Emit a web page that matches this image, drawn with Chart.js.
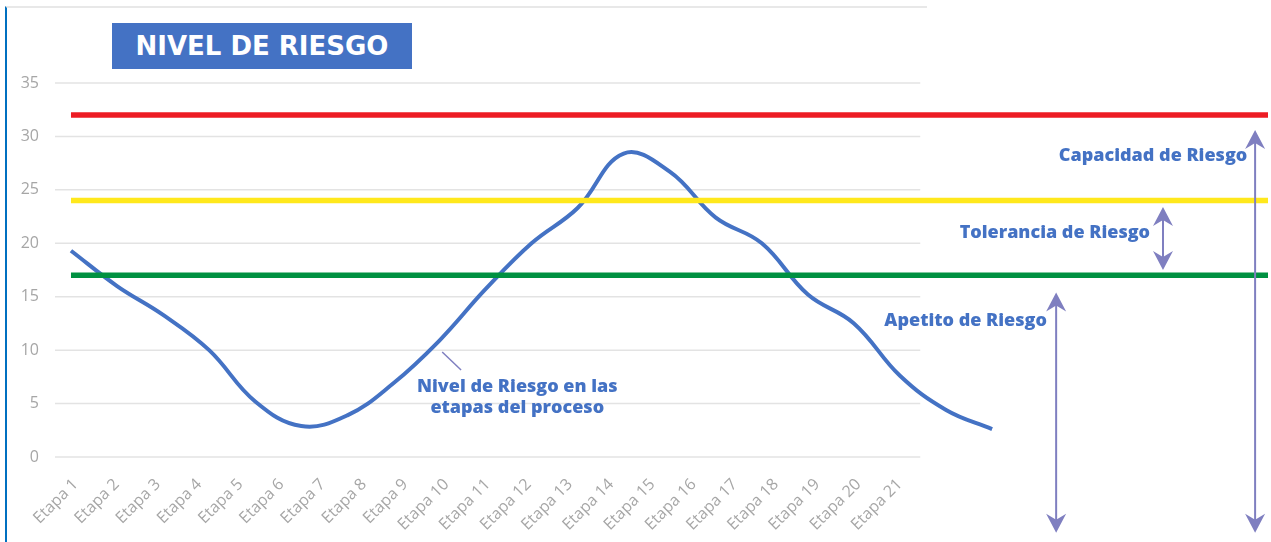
<!DOCTYPE html>
<html>
<head>
<meta charset="utf-8">
<title>Nivel de Riesgo</title>
<script src="https://cdn.jsdelivr.net/npm/chart.js@4.4.1/dist/chart.umd.min.js"></script>
<style>
  html, body { margin: 0; padding: 0; background: #fff; }
  #wrap { position: relative; width: 1271px; height: 542px; overflow: hidden; }
  #frame {
    position: absolute; left: 5px; top: 6px; width: 920px; height: 540px;
    border-left: 2.5px solid #0070C0; border-top: 2px solid #E8E8E8;
  }
  #title {
    position: absolute; left: 112px; top: 23px; width: 300px; height: 46px;
    background: #4472C4; color: #fff;
    font: bold 26px "DejaVu Sans", sans-serif;
    display: flex; align-items: center; justify-content: center;
  }
  canvas { position: absolute; left: 0; top: 0; }
</style>
</head>
<body>
<div id="wrap">
  <div id="frame"></div>
  <canvas id="riesgo" width="1271" height="542"></canvas>
  <div id="title">NIVEL DE RIESGO</div>
</div>

<script>
// ================= DATA =================
const etapas = ['Etapa 1', 'Etapa 2', 'Etapa 3', 'Etapa 4', 'Etapa 5', 'Etapa 6', 'Etapa 7',
  'Etapa 8', 'Etapa 9', 'Etapa 10', 'Etapa 11', 'Etapa 12', 'Etapa 13', 'Etapa 14',
  'Etapa 15', 'Etapa 16', 'Etapa 17', 'Etapa 18', 'Etapa 19', 'Etapa 20', 'Etapa 21']

// nivel de riesgo (curva azul)
const nivelRiesgo = [19.3, 16.0, 13.3, 10.0, 5.2, 2.9, 3.9, 6.9, 10.9, 15.7, 20.0,
  23.3, 28.4, 26.7, 22.4, 20.0, 15.2, 12.5, 7.6, 4.4, 2.6]

const capacidadRiesgo = 32
const toleranciaRiesgo = 24
const apetitoRiesgo = 17

const yTicks = [0, 5, 10, 15, 20, 25, 30, 35]

// ================= LAYOUT (axis ranges) =================
const X_MIN = 0.5, X_MAX = 29.94        // category axis (labels)
const XC_MIN = 0.653, XC_MAX = 26.99    // axis used by the drawn curve / lines

const BLUE = '#4472C4'
const ARROW = '#7F7FC0'
const NOTE_FONT = '800 18px "Open Sans", sans-serif'

function hline(value) {
  return [{ x: 1, y: value }, { x: XC_MAX, y: value }]
}

// ================= PLUGINS =================
const gridPlugin = {
  id: 'grid',
  beforeDatasetsDraw(chart) {
    const { ctx, scales: { x, y } } = chart
    ctx.save()
    ctx.strokeStyle = '#E3E3E3'
    ctx.lineWidth = 1.5
    yTicks.forEach(v => {
      const py = y.getPixelForValue(v)
      ctx.beginPath()
      ctx.moveTo(x.getPixelForValue(0.5), py)
      ctx.lineTo(x.getPixelForValue(etapas.length + 0.5), py)
      ctx.stroke()
    })
    ctx.restore()
  }
}

function arrowHead(ctx, x, y, dir) {
  // dir = -1 points up, 1 points down
  ctx.beginPath()
  ctx.moveTo(x, y)
  ctx.lineTo(x - 10, y - dir * 19)
  ctx.lineTo(x, y - dir * 13)
  ctx.lineTo(x + 10, y - dir * 19)
  ctx.closePath()
  ctx.fill()
}

const notesPlugin = {
  id: 'notes',
  afterDatasetsDraw(chart) {
    const { ctx, scales: { xc, y } } = chart
    ctx.save()

    // double arrows
    const arrows = [
      { x: 22.39, top: 15.4, bottom: -7.1 },
      { x: 24.71, top: 23.4, bottom: 17.5 },
      { x: 26.71, top: 30.6, bottom: -7.1 }
    ]
    ctx.strokeStyle = ARROW
    ctx.fillStyle = ARROW
    ctx.lineWidth = 2
    arrows.forEach(a => {
      const px = xc.getPixelForValue(a.x)
      const t = y.getPixelForValue(a.top)
      const b = y.getPixelForValue(a.bottom)
      ctx.beginPath()
      ctx.moveTo(px, t + 10)
      ctx.lineTo(px, b - 10)
      ctx.stroke()
      arrowHead(ctx, px, t, -1)
      arrowHead(ctx, px, b, 1)
    })

    // leader line to the curve
    ctx.lineWidth = 1.5
    ctx.beginPath()
    ctx.moveTo(xc.getPixelForValue(9.06), y.getPixelForValue(9.83))
    ctx.lineTo(xc.getPixelForValue(9.47), y.getPixelForValue(8.14))
    ctx.stroke()

    // labels
    ctx.fillStyle = BLUE
    ctx.font = NOTE_FONT
    ctx.textBaseline = 'middle'
    ctx.textAlign = 'right'
    ctx.fillText('Capacidad de Riesgo', xc.getPixelForValue(26.54), y.getPixelForValue(28.2))
    ctx.fillText('Tolerancia de Riesgo', xc.getPixelForValue(24.43), y.getPixelForValue(21.0))
    ctx.fillText('Apetito de Riesgo', xc.getPixelForValue(22.19), y.getPixelForValue(12.7))
    ctx.textAlign = 'center'
    ctx.fillText('Nivel de Riesgo en las', xc.getPixelForValue(10.69), y.getPixelForValue(6.55))
    ctx.fillText('etapas del proceso', xc.getPixelForValue(10.69), y.getPixelForValue(4.59))

    ctx.restore()
  }
}

// ================= CHART =================
const lineBase = { pointRadius: 0, fill: false, xAxisID: 'xc', yAxisID: 'y' }

new Chart(document.getElementById('riesgo'), {
  type: 'line',
  data: {
    datasets: [
      { ...lineBase, label: 'Capacidad', data: hline(capacidadRiesgo), borderColor: '#ED1C24', borderWidth: 5.5, tension: 0 },
      { ...lineBase, label: 'Tolerancia', data: hline(toleranciaRiesgo), borderColor: '#FFE81C', borderWidth: 5.5, tension: 0 },
      { ...lineBase, label: 'Apetito', data: hline(apetitoRiesgo), borderColor: '#009141', borderWidth: 5.5, tension: 0 },
      {
        ...lineBase, label: 'Nivel de Riesgo',
        data: nivelRiesgo.map((v, i) => ({ x: i + 1, y: v })),
        borderColor: BLUE, borderWidth: 4, tension: 0.4, borderCapStyle: 'butt'
      }
    ]
  },
  options: {
    responsive: false,
    animation: false,
    layout: { padding: { top: 83, right: 3, bottom: 0, left: 0 } },
    plugins: { legend: { display: false }, tooltip: { enabled: false } },
    scales: {
      x: {
        type: 'linear', position: 'bottom', min: X_MIN, max: X_MAX,
        grid: { display: false, drawTicks: false },
        border: { display: false },
        afterBuildTicks: s => { s.ticks = etapas.map((_, i) => ({ value: i + 1 })) },
        afterFit: s => { s.height = 85 },
        ticks: {
          autoSkip: false, maxRotation: 45, minRotation: 45, padding: 18,
          color: '#A6A6A6', font: { family: '"Open Sans", sans-serif', size: 16 },
          callback: v => etapas[v - 1] || ''
        }
      },
      xc: { type: 'linear', display: false, min: XC_MIN, max: XC_MAX },
      y: {
        min: 0, max: 35,
        grid: { display: false, drawTicks: false },
        border: { display: false },
        afterFit: s => { s.width = 55 },
        afterBuildTicks: s => { s.ticks = yTicks.map(v => ({ value: v })) },
        ticks: {
          padding: 16, color: '#A6A6A6',
          font: { family: '"Open Sans", sans-serif', size: 16 }
        }
      }
    }
  },
  plugins: [gridPlugin, notesPlugin]
})
</script>
</body>
</html>
